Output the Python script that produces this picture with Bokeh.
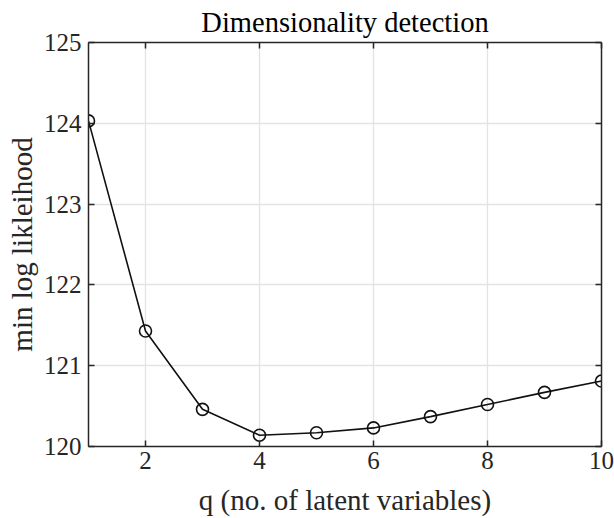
from bokeh.plotting import figure
from bokeh.models import LinearAxis, FixedTicker, Range1d, CustomJSTickFormatter
from bokeh.embed import file_html
from bokeh.resources import INLINE

q = [1, 2, 3, 4, 5, 6, 7, 8, 9, 10]
loglik = [124.03, 121.43, 120.46, 120.14, 120.17, 120.23, 120.37, 120.52, 120.67, 120.81]
x_ticks = [2, 4, 6, 8, 10]
y_ticks = [120, 121, 122, 123, 124, 125]

FONT = "Liberation Serif"
AX = "#262626"

p = figure(width=614, height=518, output_backend="svg", toolbar_location=None,
           x_range=Range1d(1, 10), y_range=Range1d(120, 125),
           min_border_left=88, min_border_right=13, min_border_top=42, min_border_bottom=72,
           title="Dimensionality detection")
p.title.text_font = FONT
p.title.text_font_size = "28.5px"
p.title.text_font_style = "normal"
p.title.text_color = "#000000"
p.title.align = "center"
p.title.standoff = 9
p.outline_line_color = None
p.background_fill_color = "white"
p.border_fill_color = "white"

def style_axis(ax, ticks, labels=True):
    ax.ticker = FixedTicker(ticks=ticks)
    ax.axis_line_color = AX
    ax.axis_line_width = 1.5
    ax.major_tick_line_color = AX
    ax.major_tick_line_width = 1.5
    ax.major_tick_in = 6
    ax.major_tick_out = 0
    ax.minor_tick_line_color = None
    ax.major_label_text_font = FONT
    ax.major_label_text_font_size = "25px"
    ax.major_label_text_color = AX
    ax.axis_label_text_font = FONT
    ax.axis_label_text_font_size = "29px"
    ax.axis_label_text_font_style = "normal"
    ax.axis_label_text_color = AX
    if not labels:
        ax.formatter = CustomJSTickFormatter(code="return ''")
        ax.major_label_standoff = 0

style_axis(p.xaxis[0], x_ticks)
style_axis(p.yaxis[0], y_ticks)
p.xaxis[0].major_label_standoff = 5
p.xaxis[0].axis_label = "q (no. of latent variables)"
p.xaxis[0].axis_label_standoff = 12
p.yaxis[0].major_label_standoff = 7
p.yaxis[0].axis_label = "min log likleihood"
p.yaxis[0].axis_label_standoff = 3

top = LinearAxis()
style_axis(top, x_ticks, labels=False)
p.add_layout(top, "above")
right = LinearAxis()
style_axis(right, y_ticks, labels=False)
p.add_layout(right, "right")

p.xgrid.ticker = FixedTicker(ticks=x_ticks)
p.ygrid.ticker = FixedTicker(ticks=y_ticks)
p.grid.grid_line_color = "#e3e3e3"
p.grid.grid_line_width = 1.3

p.line(q, loglik, line_color="#111111", line_width=1.6)
p.scatter(q, loglik, marker="circle", size=12, fill_color=None, line_color="#111111", line_width=1.6)

open("out.html", "w").write(file_html(p, INLINE))
